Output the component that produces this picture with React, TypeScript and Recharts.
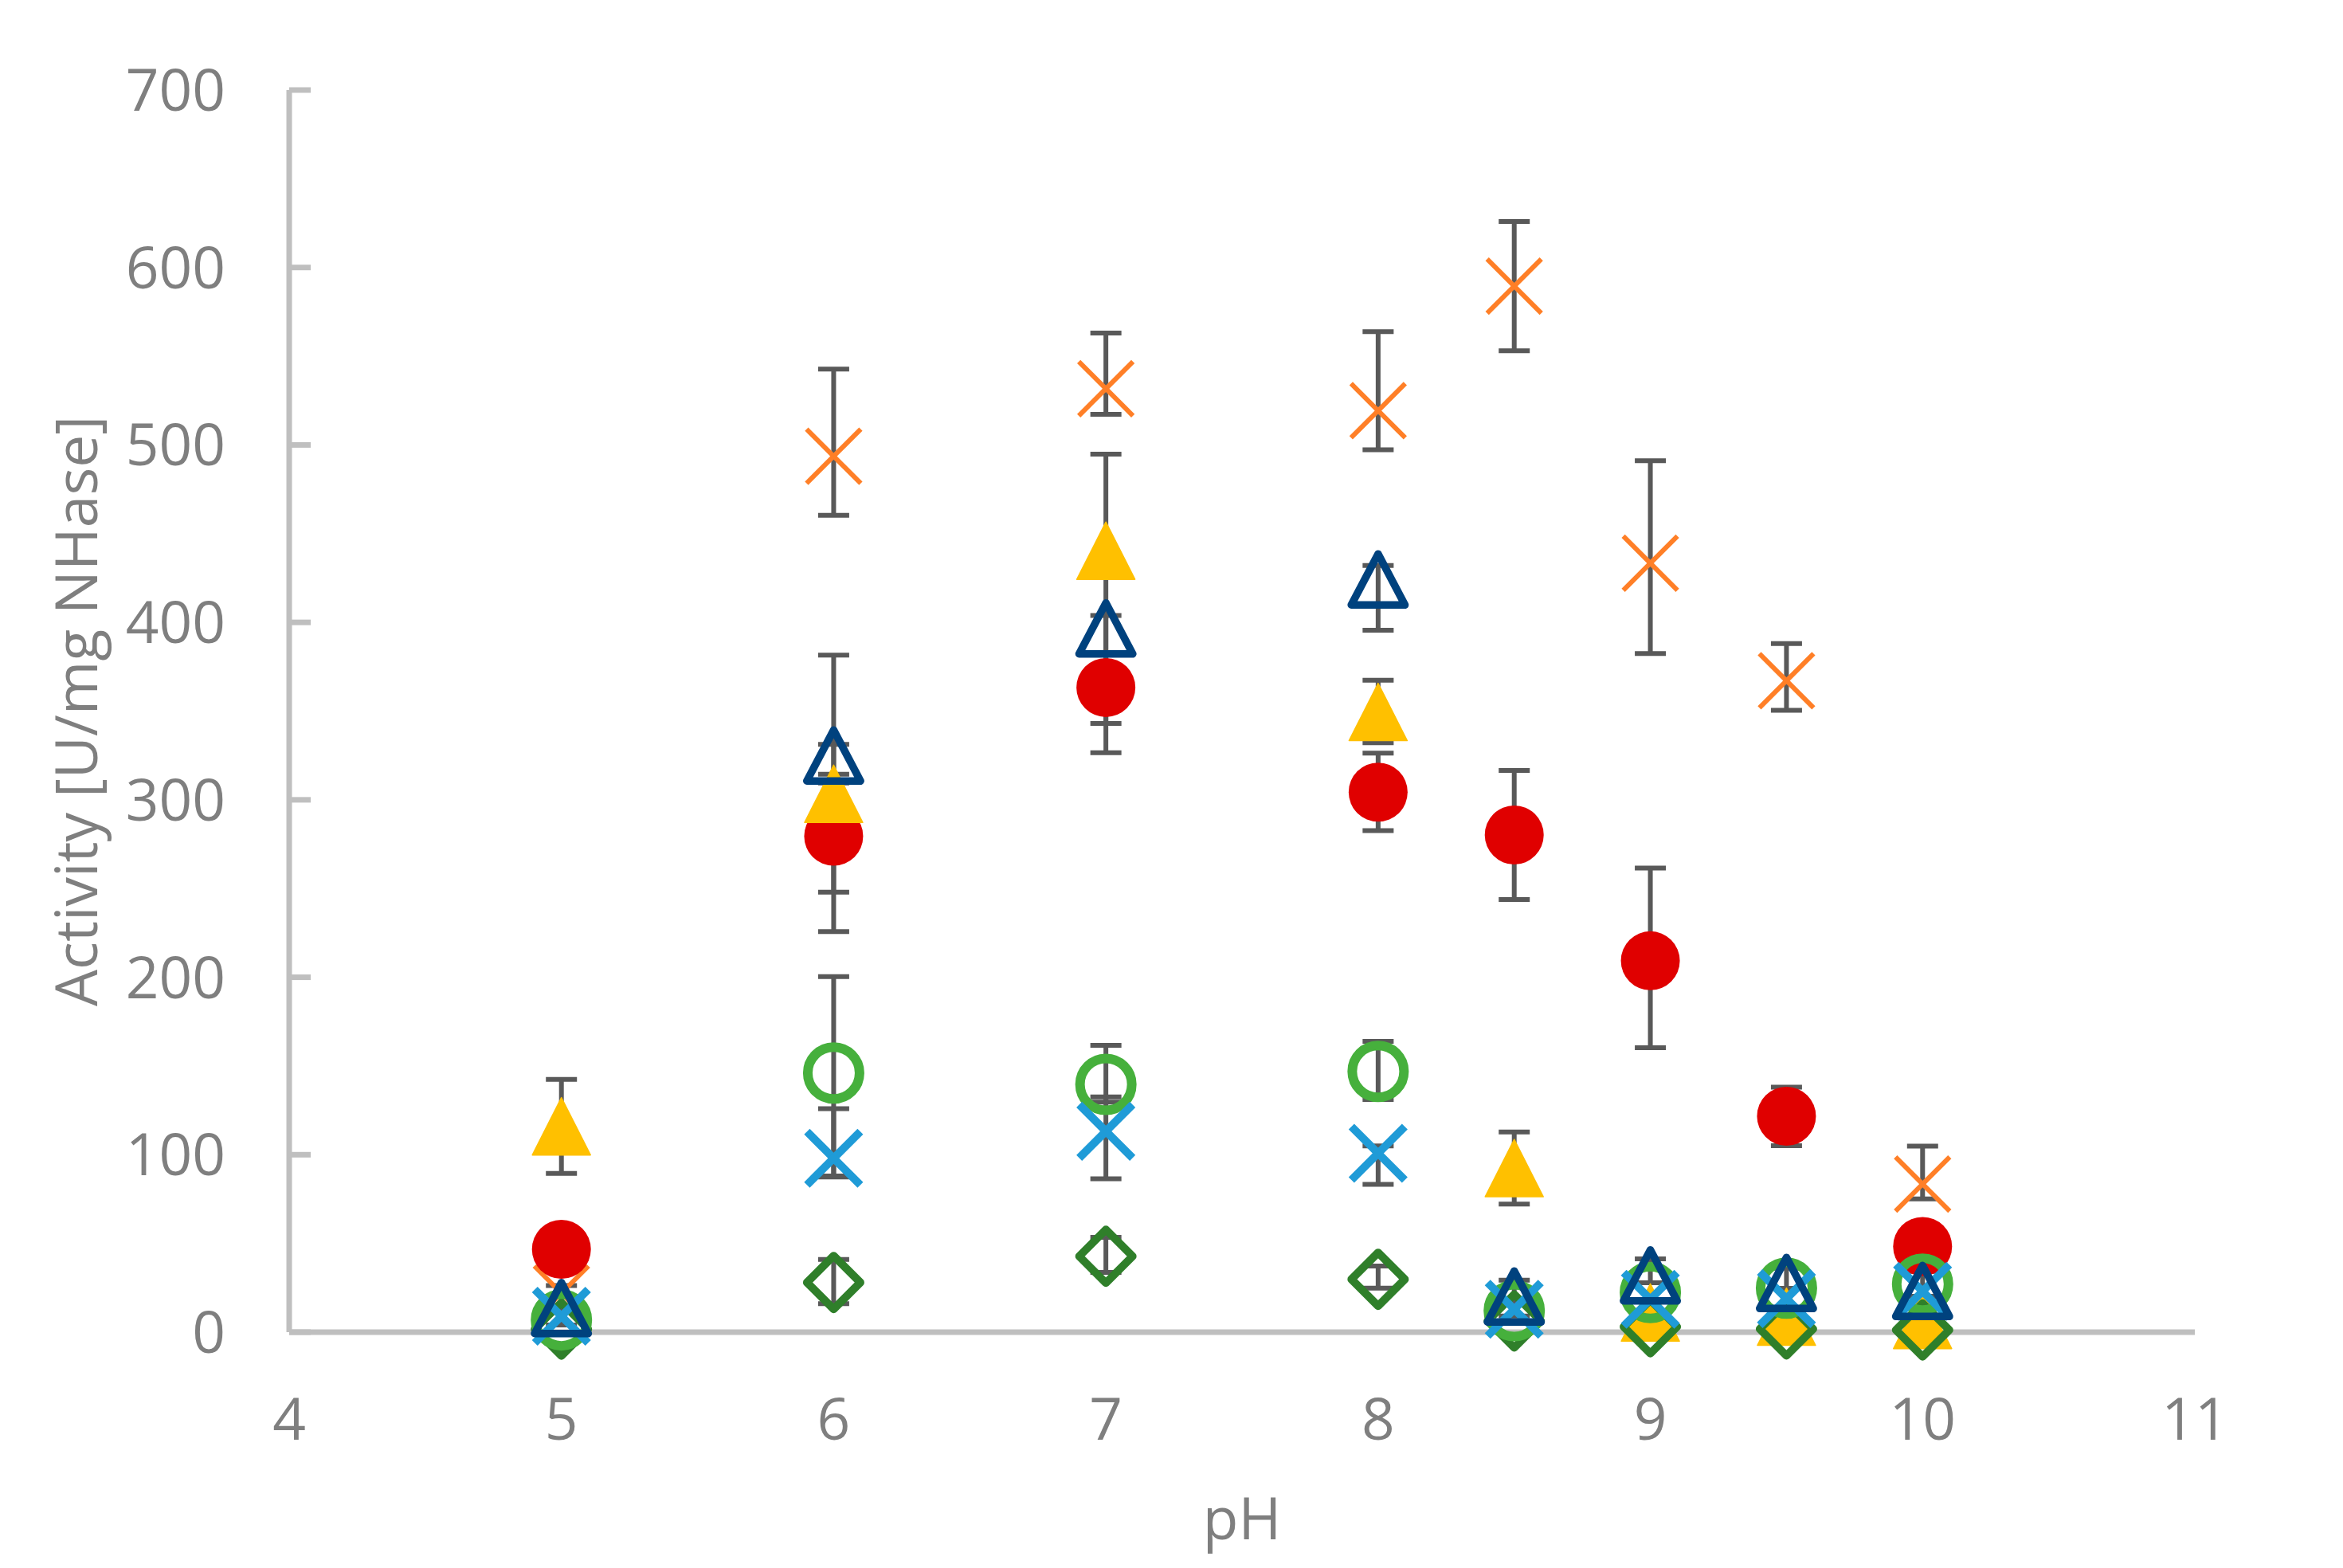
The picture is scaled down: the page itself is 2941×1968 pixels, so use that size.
import React from "react";
import { ErrorBar, Label, Scatter, ScatterChart, XAxis, YAxis } from "recharts";

// pH values measured
const PH = [5, 6, 7, 8, 8.5, 9, 9.5, 10];
const X_TICKS = [4, 5, 6, 7, 8, 9, 10, 11];
const Y_TICKS = [0, 100, 200, 300, 400, 500, 600, 700];

type Err = [number, number] | null; // [below, above]

const ORANGE = [22, 493.6, 531.7, 519.3, 589.5, 433.4, 367.1, 83.5];
const ORANGE_ERR: Err[] = [null, [33.3, 49.1], [14.5, 31.4], [22, 44.5], [36.4, 36.4], [51, 57.7], [16.6, 21], [8.4, 21.3]];

const RED = [46.7, 279.5, 363.3, 304.3, 280.2, 209.3, 121.7, 48.3];
const RED_ERR: Err[] = [null, [31.5, 30], [36.8, 40.6], [21.6, 22], [36.4, 36.4], [49, 52.2], [16.6, 16.4], null];

const YELLOW = [116, 303.4, 440.4, 349.5, 92.5, 11.1, 8.7, 6.9];
const YELLOW_ERR: Err[] = [[26.5, 26.5], [77.7, 78.1], [97.4, 54.4], [17.4, 17.9], [20.3, 20.3], null, null, null];

const DIAMOND = [1.7, 28, 42.8, 29.8, 6.3, 3.0, 1.8, 1.2];
const DIAMOND_ERR: Err[] = [null, [12, 13], [9.1, 10.6], [5, 7.5], null, null, null, null];

const GREEN = [6.9, 146, 139.6, 146.9, 12.1, 22.3, 24.8, 27.1];
const GREEN_ERR: Err[] = [null, [58.5, 54.4], [10, 22], [15.8, 17], null, null, null, null];

const BLUE = [9, 98, 113.2, 100.8, 12.9, 18.5, 18.9, 23];
const BLUE_ERR: Err[] = [null, [10, 28], [26.8, 19.4], [17.5, 4.1], null, null, null, null];

const NAVY = [13.6, 325, 396.6, 424.2, 20.1, 32, 27.7, 23.2];
const NAVY_ERR: Err[] = [[9.6, 12.7], [10.6, 6.2], null, [28.6, 7.9], [11, 9.2], [4.2, 9.3], [3, 8.3], [3, 11]];

const FONT = "'Open Sans', 'Noto Sans', sans-serif";
const TEXT = "#7f7f7f";
const AXIS = "#bfbfbf";
const BAR = "#595959";

function rows(vals: number[], errs: Err[]) {
  return PH.map((ph, i) => ({ ph, v: vals[i], err: errs[i] }));
}

const SERIES = [
  { key: "orange", data: rows(ORANGE, ORANGE_ERR), shape: "xOrange" },
  { key: "red", data: rows(RED, RED_ERR), shape: "dot" },
  { key: "yellow", data: rows(YELLOW, YELLOW_ERR), shape: "tri" },
  { key: "diamond", data: rows(DIAMOND, DIAMOND_ERR), shape: "diamond" },
  { key: "green", data: rows(GREEN, GREEN_ERR), shape: "ring" },
  { key: "blue", data: rows(BLUE, BLUE_ERR), shape: "xBlue" },
  { key: "navy", data: rows(NAVY, NAVY_ERR), shape: "triOpen" },
];

function Marker({ cx, cy, kind }: { cx: number; cy: number; kind: string }) {
  if (cx == null || cy == null) return null;
  switch (kind) {
    case "dot":
      return <circle cx={cx} cy={cy} r={37} fill="#e00000" />;
    case "tri":
      return (
        <path
          d={`M${cx},${cy - 36}L${cx + 36.5},${cy + 36}L${cx - 36.5},${cy + 36}Z`}
          fill="#ffc000"
          stroke="#ffc000"
          strokeWidth={1.5}
          strokeLinejoin="round"
        />
      );
    case "triOpen":
      return (
        <path
          d={`M${cx},${cy - 32}L${cx + 33.7},${cy + 32}L${cx - 33.7},${cy + 32}Z`}
          fill="none"
          stroke="#00427e"
          strokeWidth={9.5}
          strokeLinejoin="round"
        />
      );
    case "ring":
      return <circle cx={cx} cy={cy} r={32.5} fill="none" stroke="#46b03c" strokeWidth={12} />;
    case "diamond":
      return (
        <path
          d={`M${cx},${cy - 33.5}L${cx + 33.5},${cy}L${cx},${cy + 33.5}L${cx - 33.5},${cy}Z`}
          fill="none"
          stroke="#2f7f2a"
          strokeWidth={10}
          strokeLinejoin="round"
        />
      );
    case "xBlue":
    case "xOrange": {
      const blue = kind === "xBlue";
      const h = blue ? 33.5 : 34;
      return (
        <g stroke={blue ? "#1f9bd7" : "#ff7f27"} strokeWidth={blue ? 10 : 6}>
          <line x1={cx - h} y1={cy - h} x2={cx + h} y2={cy + h} />
          <line x1={cx - h} y1={cy + h} x2={cx + h} y2={cy - h} />
        </g>
      );
    }
    default:
      return null;
  }
}

function YTick({ x, y, payload }: any) {
  return (
    <g>
      <line x1={x} x2={x + 27} y1={y} y2={y} stroke={AXIS} strokeWidth={7} />
      <text x={x - 80} y={y + 26} textAnchor="end" fontSize={73} fill={TEXT} fontFamily={FONT}>
        {payload.value}
      </text>
    </g>
  );
}

function XTick({ x, y, payload }: any) {
  return (
    <text x={x} y={y + 135} textAnchor="middle" fontSize={73} fill={TEXT} fontFamily={FONT}>
      {payload.value}
    </text>
  );
}

export default function App() {
  return (
    <div style={{ position: "absolute", left: 0, top: 0, background: "#fff" }}>
      <ScatterChart width={2941} height={1968} margin={{ top: 113, right: 186, bottom: 0, left: 0 }}>
        <XAxis
          type="number"
          dataKey="ph"
          domain={[4, 11]}
          ticks={X_TICKS}
          height={296}
          tickSize={0}
          tickMargin={0}
          tickLine={false}
          axisLine={{ stroke: AXIS, strokeWidth: 7 }}
          tick={<XTick />}
        >
          <Label
            content={({ viewBox }: any) => (
              <text
                x={viewBox.x + viewBox.width / 2}
                y={viewBox.y + 260}
                textAnchor="middle"
                fontSize={73}
                fill={TEXT}
                fontFamily={FONT}
              >
                pH
              </text>
            )}
          />
        </XAxis>
        <YAxis
          type="number"
          dataKey="v"
          domain={[0, 700]}
          ticks={Y_TICKS}
          width={363}
          tickSize={0}
          tickMargin={0}
          tickLine={false}
          axisLine={{ stroke: AXIS, strokeWidth: 7 }}
          tick={<YTick />}
        >
          <Label
            content={({ viewBox }: any) => {
              const cy = viewBox.y + viewBox.height / 2;
              return (
                <text
                  x={122}
                  y={cy}
                  transform={`rotate(-90 122 ${cy})`}
                  textAnchor="middle"
                  fontSize={73}
                  fill={TEXT}
                  fontFamily={FONT}
                >
                  Activity [U/mg NHase]
                </text>
              );
            }}
          />
        </YAxis>

        {/* error bars first, under every marker */}
        {SERIES.map((s) => (
          <Scatter
            key={`err-${s.key}`}
            data={s.data}
            isAnimationActive={false}
            shape={() => <g />}
          >
            <ErrorBar dataKey="err" direction="y" width={19.5} stroke={BAR} strokeWidth={6} />
          </Scatter>
        ))}

        {SERIES.map((s) => (
          <Scatter
            key={s.key}
            data={s.data}
            isAnimationActive={false}
            shape={(p: any) => <Marker cx={p.cx} cy={p.cy} kind={s.shape} />}
          />
        ))}
      </ScatterChart>
    </div>
  );
}
